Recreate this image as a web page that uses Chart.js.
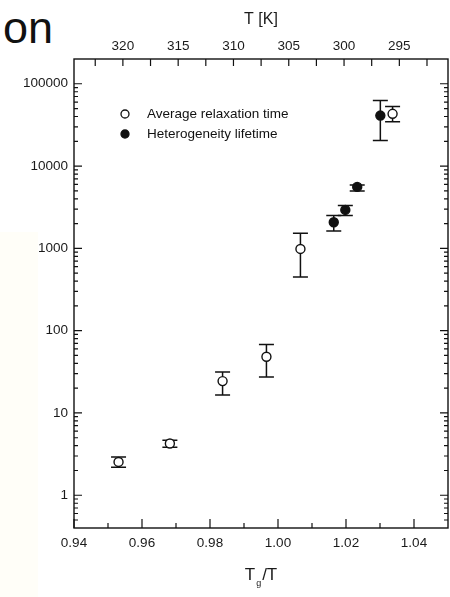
<!DOCTYPE html>
<html>
<head>
<meta charset="utf-8">
<script src="https://cdn.jsdelivr.net/npm/chart.js@4/dist/chart.umd.min.js"></script>
<style>
html,body{margin:0;padding:0;background:#fff;}
#wrap{position:relative;width:450px;height:597px;overflow:hidden;background:#fff;}
#band{position:absolute;left:0;top:232px;width:38px;height:365px;background:#fffef8;}
#frag{position:absolute;left:3px;top:5px;font:45px "Liberation Sans",Arial,sans-serif;line-height:1;color:#111;white-space:nowrap;}
#xtitle{position:absolute;left:74px;width:374px;top:566px;text-align:center;font:17px "Liberation Sans",Arial,sans-serif;line-height:1;color:#1a1a1a;}
#xtitle span{font-size:9px;position:relative;top:6px;margin:0 1px;}
canvas{position:absolute;left:0;top:0;}
</style>
</head>
<body>
<div id="wrap">
  <div id="band"></div>
  <div id="frag">on</div>
  <canvas id="c" width="450" height="597"></canvas>
  <div id="xtitle">T<span>g</span>/T</div>
</div>
<script>
// ---- data ----
const AVG_X  = [0.9531, 0.9682, 0.9837, 0.9966, 1.0066, 1.0337];
const AVG_Y  = [2.54, 4.26, 24.4, 48.2, 984, 43150];
const AVG_LO = [2.19, 3.84, 16.5, 27.3, 449, 34500];
const AVG_HI = [2.92, 4.67, 31.4, 68, 1527, 52900];

const HET_X  = [1.0164, 1.0198, 1.0233, 1.0301];
const HET_Y  = [2078, 2933, 5585, 41100];
const HET_LO = [1629, 2500, 4990, 20400];
const HET_HI = [2500, 3311, 5900, 62600];

const X_TICKS = [0.94, 0.96, 0.98, 1.00, 1.02, 1.04];
const X_MINOR = [0.95, 0.97, 0.99, 1.01, 1.03];
const Y_TICKS = [1, 10, 100, 1000, 10000, 100000];
const T_TICKS = [322.5, 320, 317.5, 315, 312.5, 310, 307.5, 305, 302.5, 300, 297.5, 295, 292.5];
const T_LABELED = [320, 315, 310, 305, 300, 295];

const SERIES_LABELS = ['Average relaxation time', 'Heterogeneity lifetime'];

const INK = '#111';
const TICK_FONT = {family: '"Liberation Sans", Arial, sans-serif', size: 13.5};

// minor log ticks (2..9 within each decade) inside the axis range
function logMinor(min, max) {
  const out = [];
  for (let e = -1; e <= 6; e++) {
    for (let m = 2; m <= 9; m++) {
      const v = m * Math.pow(10, e);
      if (v > min * 1.0001 && v < max * 0.9999) out.push(v);
    }
  }
  return out;
}

const errorBars = {
  id: 'errorBars',
  beforeDatasetsDraw(chart) {
    const {ctx, scales: {x, y}} = chart;
    ctx.save();
    ctx.strokeStyle = INK;
    ctx.lineWidth = 1.5;
    chart.data.datasets.forEach(ds => {
      ds.data.forEach((p, i) => {
        const px = x.getPixelForValue(p.x);
        const lo = y.getPixelForValue(ds.errLow[i]);
        const hi = y.getPixelForValue(ds.errHigh[i]);
        const hw = 7.5;
        ctx.beginPath();
        ctx.moveTo(px, lo); ctx.lineTo(px, hi);
        ctx.moveTo(px - hw, lo); ctx.lineTo(px + hw, lo);
        ctx.moveTo(px - hw, hi); ctx.lineTo(px + hw, hi);
        ctx.stroke();
      });
    });
    ctx.restore();
  }
};

const frameTicks = {
  id: 'frameTicks',
  afterDraw(chart) {
    const {ctx, chartArea: a, scales} = chart;
    const x = scales.x, y = scales.y, t = scales.x2;
    ctx.save();
    ctx.strokeStyle = INK;
    ctx.lineWidth = 1.4;
    ctx.strokeRect(a.left, a.top, a.right - a.left, a.bottom - a.top);
    ctx.lineWidth = 1.2;
    ctx.beginPath();
    X_TICKS.forEach(v => { const p = x.getPixelForValue(v); ctx.moveTo(p, a.bottom); ctx.lineTo(p, a.bottom - 9); });
    X_MINOR.forEach(v => { const p = x.getPixelForValue(v); ctx.moveTo(p, a.bottom); ctx.lineTo(p, a.bottom - 5); });
    T_TICKS.forEach(v => { const p = t.getPixelForValue(v); ctx.moveTo(p, a.top); ctx.lineTo(p, a.top + 7); });
    Y_TICKS.forEach(v => {
      const p = y.getPixelForValue(v);
      ctx.moveTo(a.left, p); ctx.lineTo(a.left + 8, p);
      ctx.moveTo(a.right, p); ctx.lineTo(a.right - 8, p);
    });
    logMinor(y.min, y.max).forEach(v => {
      const p = y.getPixelForValue(v);
      ctx.moveTo(a.left, p); ctx.lineTo(a.left + 4, p);
      ctx.moveTo(a.right, p); ctx.lineTo(a.right - 4, p);
    });
    ctx.stroke();
    ctx.restore();
  }
};

const inLegend = {
  id: 'inLegend',
  afterDraw(chart) {
    const {ctx, chartArea: a} = chart;
    ctx.save();
    chart.data.datasets.forEach((ds, i) => {
      const cx = a.left + 51, cy = a.top + 55 + i * 20;
      ctx.beginPath();
      ctx.arc(cx, cy, 4, 0, 2 * Math.PI);
      ctx.fillStyle = ds.pointBackgroundColor;
      ctx.fill();
      ctx.lineWidth = 1.3;
      ctx.strokeStyle = INK;
      ctx.stroke();
      ctx.fillStyle = INK;
      ctx.font = '13.5px "Liberation Sans", Arial, sans-serif';
      ctx.textBaseline = 'middle';
      ctx.textAlign = 'left';
      ctx.fillText(ds.label, a.left + 73, cy + 0.5);
    });
    ctx.restore();
  }
};

const noSidePad = s => { s.paddingLeft = 0; s.paddingRight = 0; };

new Chart(document.getElementById('c'), {
  type: 'scatter',
  data: {
    datasets: [
      {
        label: SERIES_LABELS[0],
        data: AVG_X.map((v, i) => ({x: v, y: AVG_Y[i]})),
        errLow: AVG_LO, errHigh: AVG_HI,
        pointStyle: 'circle', pointRadius: 4.5,
        pointBackgroundColor: '#fff', pointBorderColor: INK, pointBorderWidth: 1.4
      },
      {
        label: SERIES_LABELS[1],
        data: HET_X.map((v, i) => ({x: v, y: HET_Y[i]})),
        errLow: HET_LO, errHigh: HET_HI,
        pointStyle: 'circle', pointRadius: 4.5,
        pointBackgroundColor: INK, pointBorderColor: INK, pointBorderWidth: 1.4
      }
    ]
  },
  options: {
    responsive: false,
    animation: false,
    layout: {autoPadding: false, padding: {left: 0, right: 2, top: 0, bottom: 0}},
    plugins: {legend: {display: false}, tooltip: {enabled: false}},
    scales: {
      x: {
        type: 'linear', position: 'bottom', min: 0.94, max: 1.05,
        afterBuildTicks: s => { s.ticks = X_TICKS.map(v => ({value: v})); },
        ticks: {callback: v => Number(v).toFixed(2), font: TICK_FONT, color: '#1a1a1a', padding: 7, maxRotation: 0, autoSkip: false},
        grid: {display: false, drawTicks: false},
        border: {display: false},
        afterFit: s => { s.height = 69; noSidePad(s); }
      },
      x2: {
        type: 'linear', position: 'top', reverse: true, min: 290.6, max: 324.42,
        afterBuildTicks: s => { s.ticks = T_TICKS.map(v => ({value: v})); },
        ticks: {callback: v => T_LABELED.includes(v) ? String(v) : '', font: TICK_FONT, color: '#1a1a1a', padding: 5, maxRotation: 0, autoSkip: false},
        grid: {display: false, drawTicks: false},
        border: {display: false},
        title: {display: true, text: 'T [K]', color: '#1a1a1a', font: {family: '"Liberation Sans", Arial, sans-serif', size: 16}, padding: {top: 10, bottom: 0}},
        afterFit: s => { s.height = 59; noSidePad(s); }
      },
      y: {
        type: 'logarithmic', position: 'left', min: 0.4, max: 200000,
        afterBuildTicks: s => { s.ticks = Y_TICKS.map(v => ({value: v})); },
        ticks: {callback: v => String(v), font: TICK_FONT, color: '#1a1a1a', padding: 6, autoSkip: false},
        grid: {display: false, drawTicks: false},
        border: {display: false},
        afterFit: s => { s.width = 74; }
      }
    }
  },
  plugins: [errorBars, frameTicks, inLegend]
});
</script>
</body>
</html>
